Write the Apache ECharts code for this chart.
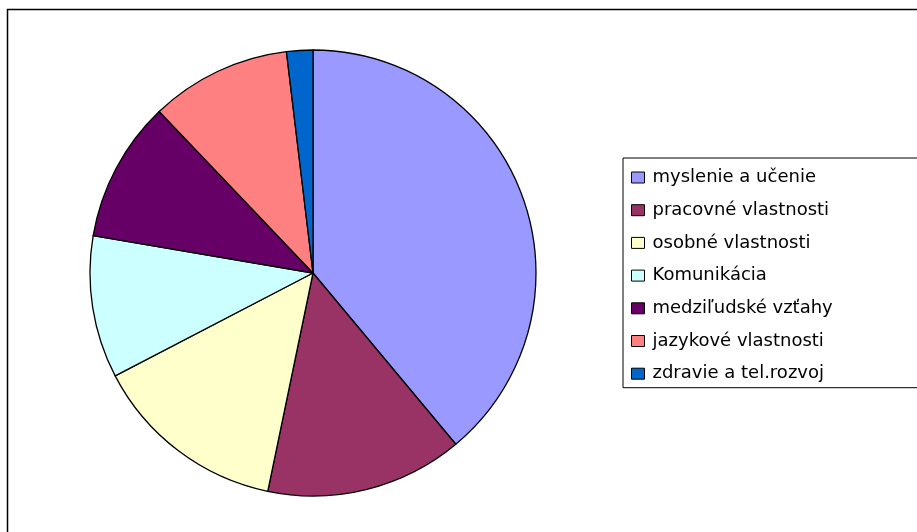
<!DOCTYPE html>
<html>
<head>
<meta charset="utf-8">
<script src="https://cdn.jsdelivr.net/npm/echarts@6/dist/echarts.min.js"></script>
<style>
  html, body { margin: 0; padding: 0; background: #fff; }
  #chart { width: 917px; height: 532px; }
</style>
</head>
<body>
<div id="chart"></div>
<script>
const categories = [
  'myslenie a učenie',
  'pracovné vlastnosti',
  'osobné vlastnosti',
  'Komunikácia',
  'medziľudské vzťahy',
  'jazykové vlastnosti',
  'zdravie a tel.rozvoj'
];
const values = [38.9, 14.3, 14.1, 10.3, 10.2, 10.2, 1.9];
const colors = ['#9999FF', '#993366', '#FFFFCC', '#CCFFFF', '#660066', '#FF8080', '#0066CC'];

const chart = echarts.init(document.getElementById('chart'), null, { renderer: 'canvas' });
chart.setOption({
  animation: false,
  backgroundColor: '#ffffff',
  color: colors,
  graphic: [{
    type: 'rect',
    shape: { x: 7.5, y: 9.5, width: 1200, height: 1200 },
    style: { fill: 'none', stroke: '#000', lineWidth: 1.5 },
    silent: true,
    z: 0
  }],
  legend: {
    orient: 'vertical',
    left: 623,
    top: 158,
    data: categories,
    icon: 'rect',
    itemWidth: 13,
    itemHeight: 11,
    itemGap: 12.7,
    padding: [9.5, 300, 4, 8],
    borderColor: '#000',
    borderWidth: 1,
    backgroundColor: '#fff',
    itemStyle: { borderColor: '#000', borderWidth: 1 },
    textStyle: {
      fontFamily: 'DejaVu Sans',
      fontSize: 18,
      color: '#000',
      lineHeight: 20,
      padding: [0, 0, 0, 3]
    },
    selectedMode: false
  },
  series: [{
    type: 'pie',
    center: [313, 273],
    radius: 223,
    startAngle: 90,
    clockwise: true,
    label: { show: false },
    labelLine: { show: false },
    emphasis: { disabled: true },
    itemStyle: { borderColor: '#000', borderWidth: 1.3 },
    data: categories.map((name, i) => ({ name: name, value: values[i] }))
  }]
});
</script>
</body>
</html>
